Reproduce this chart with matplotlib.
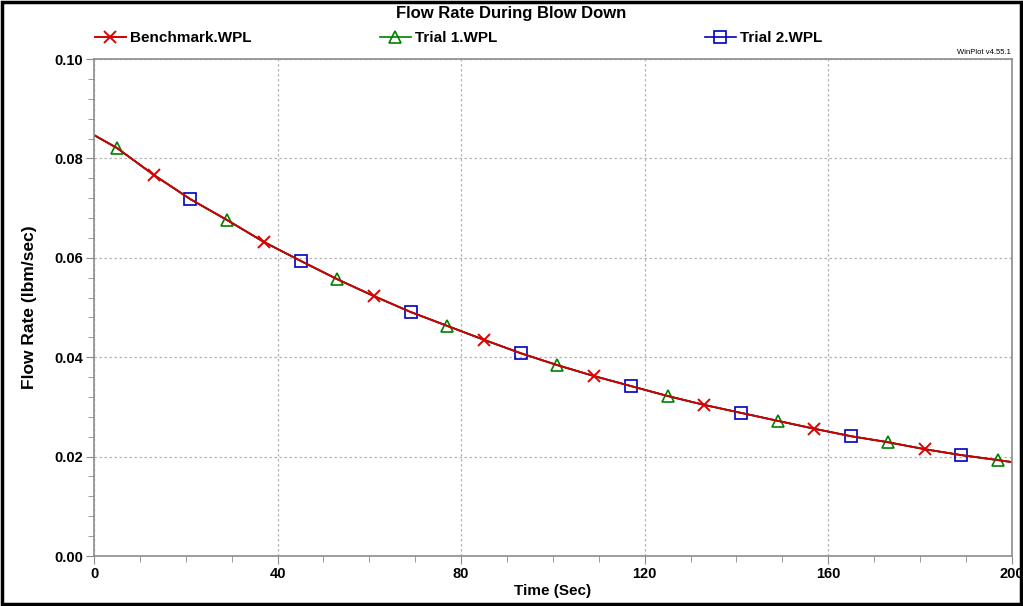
import matplotlib.pyplot as plt
from matplotlib.patches import Rectangle
from matplotlib.ticker import MultipleLocator, FormatStrFormatter

# curve (time in sec, flow rate in lbm/sec)
time = [0, 5, 13, 21, 29, 37, 45, 53, 61, 69, 77, 85, 93, 101, 109,
        117, 125, 133, 141, 149, 157, 165, 173, 181, 189, 197, 200]
benchmark = [0.0847, 0.0821, 0.0767, 0.0718, 0.0676, 0.0632, 0.0594, 0.0557,
             0.0523, 0.0491, 0.0463, 0.0435, 0.0408, 0.0384, 0.0362, 0.0342,
             0.0322, 0.0304, 0.0288, 0.0272, 0.0256, 0.0241, 0.0229, 0.0215,
             0.0203, 0.0193, 0.0189]
trial1 = list(benchmark)
trial2 = list(benchmark)

plt.rcParams['font.family'] = ['Liberation Sans', 'DejaVu Sans']

fig = plt.figure(figsize=(10.23, 6.06), dpi=100)
ax = fig.add_axes([0.0919, 0.0825, 0.8971, 0.8201])

l2, = ax.plot(time, trial2, color='#0000c0', lw=1.2, marker='s', ms=8,
              mfc='none', mec='#0000c0', mew=1.2, markevery=slice(3, 26, 3),
              label='Trial 2.WPL')
l1, = ax.plot(time, trial1, color='#008000', lw=1.2, marker='^', ms=8,
              mfc='none', mec='#008000', mew=1.2, markevery=slice(1, 26, 3),
              label='Trial 1.WPL')
l0, = ax.plot(time, benchmark, color='#d00000', lw=1.4, marker='x', ms=9,
              mec='#e00000', mew=1.4, markevery=slice(2, 26, 3),
              label='Benchmark.WPL')

ax.set_xlim(0, 200)
ax.set_ylim(0, 0.10)
ax.xaxis.set_major_locator(MultipleLocator(40))
ax.xaxis.set_minor_locator(MultipleLocator(10))
ax.yaxis.set_major_locator(MultipleLocator(0.02))
ax.yaxis.set_minor_locator(MultipleLocator(0.004))
ax.yaxis.set_major_formatter(FormatStrFormatter('%.2f'))

for s in ax.spines.values():
    s.set_color('#8c8c8c')
    s.set_linewidth(1.2)
ax.tick_params(which='both', direction='out', colors='#8c8c8c',
               labelcolor='black', labelsize=10.5)
ax.tick_params(which='major', length=6, pad=2)
ax.tick_params(which='minor', length=4)
for lab in ax.get_xticklabels() + ax.get_yticklabels():
    lab.set_fontweight('bold')

ax.grid(True, which='major', color='#b4b4b4', ls=(0, (2, 2)), lw=0.9)

ax.set_xlabel('Time (Sec)', fontsize=11, fontweight='bold', labelpad=2)
ax.set_ylabel('Flow Rate (lbm/sec)', fontsize=12.5, fontweight='bold', labelpad=12)

fig.text(0.5, 0.978, 'Flow Rate During Blow Down', ha='center', va='center',
         fontsize=12, fontweight='bold')
fig.text(0.988, 0.913, 'WinPlot v4.55.1', ha='right', va='center', fontsize=5.5)

# one legend per entry, placed where the reference puts them
for h, x0 in [(l0, 95), (l1, 380), (l2, 705)]:
    fig.legend(handles=[h], loc='center left',
               bbox_to_anchor=(x0 / 1023, 0.937), frameon=False,
               numpoints=1, handlelength=2.0, handletextpad=0.3,
               borderpad=0, borderaxespad=0,
               prop={'weight': 'bold', 'size': 11})

fig.patches.append(Rectangle((0.002, 0.003), 0.996, 0.994, transform=fig.transFigure,
                             fill=False, edgecolor='black', lw=2.5))

plt.savefig('out.png', dpi=100)
